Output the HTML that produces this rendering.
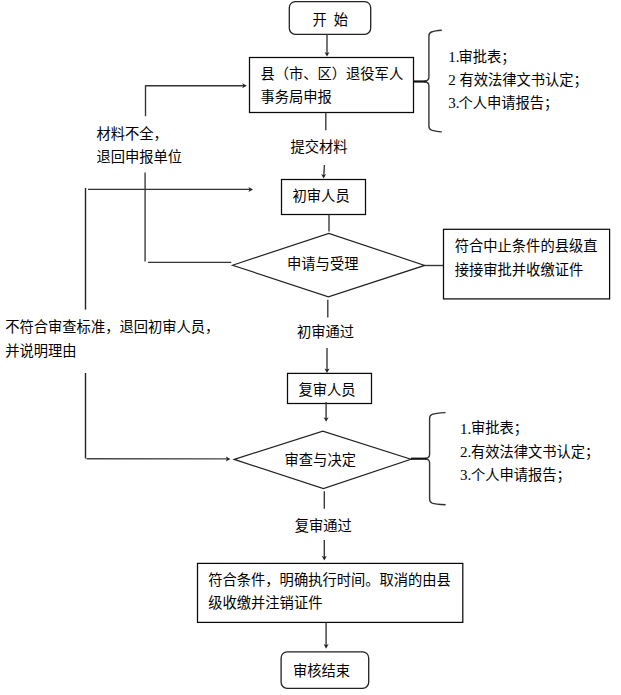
<!DOCTYPE html>
<html lang="zh-CN">
<head>
<meta charset="utf-8">
<title>退役军人事务审批流程图</title>
<style>
html,body{margin:0;padding:0;background:#fff;}
body{width:621px;height:695px;position:relative;overflow:hidden;font-family:"Liberation Sans",sans-serif;}
#chart{position:absolute;left:0;top:0;display:block;}
#chart .txt text{fill:#000;stroke:none;font-size:14.27px;font-family:"Liberation Sans","Noto Sans CJK SC",sans-serif;}
#chart .txt text.l{font-size:15px;font-family:"Liberation Serif","Noto Serif CJK SC",serif;}
#labels span{position:absolute;height:20px;line-height:20px;white-space:nowrap;overflow:hidden;color:transparent;font-family:"Liberation Sans",sans-serif;}
</style>
</head>
<body>
<svg id="chart" width="621" height="695" viewBox="0 0 621 695">
<rect width="621" height="695" fill="#fff"/>
<g class="shapes" fill="none">
<rect x="289.3" y="1.6" width="81.4" height="32.7" rx="6" stroke="#222" stroke-width="1.3"/>
<path d="M327 34.3L327 54" stroke="#333" stroke-width="1.35"/>
<path d="M327 56.6L324.5 52L327 53.2L329.5 52Z" fill="#222" stroke="none"/>
<rect x="249.5" y="57.5" width="164" height="55" stroke="#0a0a0a" stroke-width="1.25"/>
<path d="M441.8 30.3C436.8 30.6 433.9 31.1 431.5 32C429.8 32.7 428.9 33.8 428.9 35.9L428.9 77.3C428.9 79.7 427.5 81.1 424.4 81.3M424.4 81.7C427.5 81.9 428.9 83.3 428.9 85.7L428.9 126.3C428.9 128.4 429.8 129.5 431.5 130.2C433.9 131.1 436.8 131.6 441.8 131.9" stroke="#333" stroke-width="1.4"/>
<path d="M413.2 81.5L425.9 81.5" stroke="#111" stroke-width="2.2"/>
<path d="M145.5 85.7L244 85.7" stroke="#333" stroke-width="1.35"/>
<path d="M246.8 85.7L242.2 83.2L243.4 85.7L242.2 88.2Z" fill="#222" stroke="none"/>
<path d="M145.5 85.2L145.5 116.2" stroke="#333" stroke-width="1.35"/>
<path d="M145.1 172.6L145.1 261.4" stroke="#555" stroke-width="1.6"/>
<path d="M148 262.3L231.3 262.3" stroke="#333" stroke-width="1.35"/>
<path d="M325.8 112.4L325.8 130.2" stroke="#333" stroke-width="1.35"/>
<path d="M324.4 165L323.8 176" stroke="#333" stroke-width="1.35"/>
<path d="M323.6 178.6L321.1 174L323.6 175.2L326.1 174Z" fill="#222" stroke="none"/>
<rect x="281.5" y="179.5" width="84" height="35" stroke="#0a0a0a" stroke-width="1.25"/>
<path d="M329 214.5L329 231.6" stroke="#333" stroke-width="1.35"/>
<path d="M232.5 265.2L328.8 233.4L424.7 265.4L328.4 296.8Z" stroke="#222" stroke-width="1.2"/>
<path d="M424.7 265.5L443.5 265.5" stroke="#333" stroke-width="1.35"/>
<rect x="443.5" y="229.3" width="166.1" height="69.6" stroke="#0a0a0a" stroke-width="1.25"/>
<path d="M85.5 188L85.5 309.6" stroke="#222" stroke-width="1.4"/>
<path d="M85.5 373L85.5 458.5" stroke="#222" stroke-width="1.4"/>
<path d="M88 189.4L250 189.4" stroke="#333" stroke-width="1.35"/>
<path d="M253 189.4L248.4 186.9L249.6 189.4L248.4 191.9Z" fill="#222" stroke="none"/>
<path d="M86.5 458.7L227.5 458.9" stroke="#444" stroke-width="1.35"/>
<path d="M230.4 458.9L225.8 456.4L227 458.9L225.8 461.4Z" fill="#222" stroke="none"/>
<path d="M327.8 299.7L327.8 317.6" stroke="#333" stroke-width="1.35"/>
<path d="M327 347.9L327 370.5" stroke="#333" stroke-width="1.35"/>
<path d="M327 373L324.5 368.4L327 369.6L329.5 368.4Z" fill="#222" stroke="none"/>
<rect x="287.5" y="373.4" width="84" height="30.1" stroke="#0a0a0a" stroke-width="1.25"/>
<path d="M326.1 402L326.1 419.3" stroke="#333" stroke-width="1.35"/>
<path d="M326.1 421.8L323.6 417.2L326.1 418.4L328.6 417.2Z" fill="#222" stroke="none"/>
<path d="M234.3 459.4L322.8 431.2L410.9 459.2L323.4 488.6Z" stroke="#222" stroke-width="1.2"/>
<path d="M445.6 412.6C440.6 412.9 434.6 413.4 432.2 414.3C430.5 415 429.6 416.1 429.6 418.2L429.6 454.5C429.6 456.9 428.2 458.3 425.1 458.5M425.1 458.9C428.2 459.1 429.6 460.5 429.6 462.9L429.6 499.2C429.6 501.3 430.5 502.4 432.2 503.1C434.6 504 440.6 504.5 445.6 504.8" stroke="#333" stroke-width="1.4"/>
<path d="M410.9 458.7L426.6 458.7" stroke="#111" stroke-width="2.2"/>
<path d="M324.3 491.2L324.3 508.7" stroke="#333" stroke-width="1.35"/>
<path d="M324.3 540L324.3 558" stroke="#333" stroke-width="1.35"/>
<path d="M324.3 560.5L321.8 555.9L324.3 557.1L326.8 555.9Z" fill="#222" stroke="none"/>
<rect x="197.5" y="563.4" width="265.3" height="59" stroke="#0a0a0a" stroke-width="1.25"/>
<path d="M326.1 622.4L326.1 646" stroke="#333" stroke-width="1.35"/>
<path d="M326.1 648.7L323.6 644.1L326.1 645.3L328.6 644.1Z" fill="#222" stroke="none"/>
<rect x="281.1" y="651.9" width="87.6" height="36.4" rx="6" stroke="#222" stroke-width="1.3"/>
</g>
<g class="txt">
<text x="312.4 326.7 333.8" y="24.66">开 始</text>
<text x="260.5" y="79.16">县（市、区）退役军人</text>
<text x="260.5" y="102.46">事务局申报</text>
<text class="l" x="448.2" y="61.6">1.</text>
<text x="458.4" y="61.56">审批表；</text>
<text class="l" x="448.2" y="84.7">2</text>
<text x="459.4" y="84.56">有效法律文书认定；</text>
<text class="l" x="448.2" y="107.8">3.</text>
<text x="458.4" y="107.76">个人申请报告；</text>
<text x="96.4" y="138.86">材料不全，</text>
<text x="96.4" y="161.86">退回申报单位</text>
<text x="290.5" y="152.46">提交材料</text>
<text x="292.6" y="200.66">初审人员</text>
<text x="287.1" y="268.86">申请与受理</text>
<text x="454.8" y="251.46">符合中止条件的县级直</text>
<text x="454.8" y="274.66">接接审批并收缴证件</text>
<text x="5.3" y="332.46">不符合审查标准，退回初审人员，</text>
<text x="5.3" y="356.26">并说明理由</text>
<text x="297" y="336.66">初审通过</text>
<text x="298.5" y="394.56">复审人员</text>
<text x="284.6" y="464.86">审查与决定</text>
<text class="l" x="460" y="433.6">1.</text>
<text x="470.9" y="433.36">审批表；</text>
<text class="l" x="460" y="456.7">2.</text>
<text x="470.9" y="456.66">有效法律文书认定；</text>
<text class="l" x="460" y="479.8">3.</text>
<text x="470.9" y="479.66">个人申请报告；</text>
<text x="294.8" y="531.26">复审通过</text>
<text x="208.3" y="584.86">符合条件，明确执行时间。取消的由县</text>
<text x="208.3" y="608.46">级收缴并注销证件</text>
<text x="292.9" y="675.86">审核结束</text>
</g>
</svg>
<div id="labels">
<span style="left:312.4px;top:9.2px;width:37.7px;font-size:14.27px">开 始</span>
<span style="left:260.5px;top:63.7px;width:144.7px;font-size:14.27px">县（市、区）退役军人</span>
<span style="left:260.5px;top:87px;width:73.3px;font-size:14.27px">事务局申报</span>
<span style="left:448.2px;top:46.3px;width:13.2px;font-size:15.0px;font-family:'Liberation Serif',serif">1.</span>
<span style="left:458.4px;top:46.1px;width:59.1px;font-size:14.27px">审批表；</span>
<span style="left:448.2px;top:69.4px;width:9.5px;font-size:15.0px;font-family:'Liberation Serif',serif">2</span>
<span style="left:459.4px;top:69.1px;width:130.4px;font-size:14.27px">有效法律文书认定；</span>
<span style="left:448.2px;top:92.5px;width:13.2px;font-size:15.0px;font-family:'Liberation Serif',serif">3.</span>
<span style="left:458.4px;top:92.3px;width:101.9px;font-size:14.27px">个人申请报告；</span>
<span style="left:96.4px;top:123.4px;width:73.4px;font-size:14.27px">材料不全，</span>
<span style="left:96.4px;top:146.4px;width:87.6px;font-size:14.27px">退回申报单位</span>
<span style="left:290.5px;top:137px;width:59.1px;font-size:14.27px">提交材料</span>
<span style="left:292.6px;top:185.2px;width:59.1px;font-size:14.27px">初审人员</span>
<span style="left:287.1px;top:253.4px;width:73.3px;font-size:14.27px">申请与受理</span>
<span style="left:454.8px;top:236px;width:144.7px;font-size:14.27px">符合中止条件的县级直</span>
<span style="left:454.8px;top:259.2px;width:130.4px;font-size:14.27px">接接审批并收缴证件</span>
<span style="left:5.3px;top:317px;width:216.1px;font-size:14.27px">不符合审查标准，退回初审人员，</span>
<span style="left:5.3px;top:340.8px;width:73.3px;font-size:14.27px">并说明理由</span>
<span style="left:297px;top:321.2px;width:59.1px;font-size:14.27px">初审通过</span>
<span style="left:298.5px;top:379.1px;width:59.1px;font-size:14.27px">复审人员</span>
<span style="left:284.6px;top:449.4px;width:73.3px;font-size:14.27px">审查与决定</span>
<span style="left:460px;top:418.3px;width:13.2px;font-size:15.0px;font-family:'Liberation Serif',serif">1.</span>
<span style="left:470.9px;top:417.9px;width:59.1px;font-size:14.27px">审批表；</span>
<span style="left:460px;top:441.4px;width:13.2px;font-size:15.0px;font-family:'Liberation Serif',serif">2.</span>
<span style="left:470.9px;top:441.2px;width:130.4px;font-size:14.27px">有效法律文书认定；</span>
<span style="left:460px;top:464.5px;width:13.2px;font-size:15.0px;font-family:'Liberation Serif',serif">3.</span>
<span style="left:470.9px;top:464.2px;width:101.9px;font-size:14.27px">个人申请报告；</span>
<span style="left:294.8px;top:515.8px;width:59.1px;font-size:14.27px">复审通过</span>
<span style="left:208.3px;top:569.4px;width:244.6px;font-size:14.27px">符合条件，明确执行时间。取消的由县</span>
<span style="left:208.3px;top:593px;width:116.2px;font-size:14.27px">级收缴并注销证件</span>
<span style="left:292.9px;top:660.4px;width:59.1px;font-size:14.27px">审核结束</span>
</div>
</body>
</html>
